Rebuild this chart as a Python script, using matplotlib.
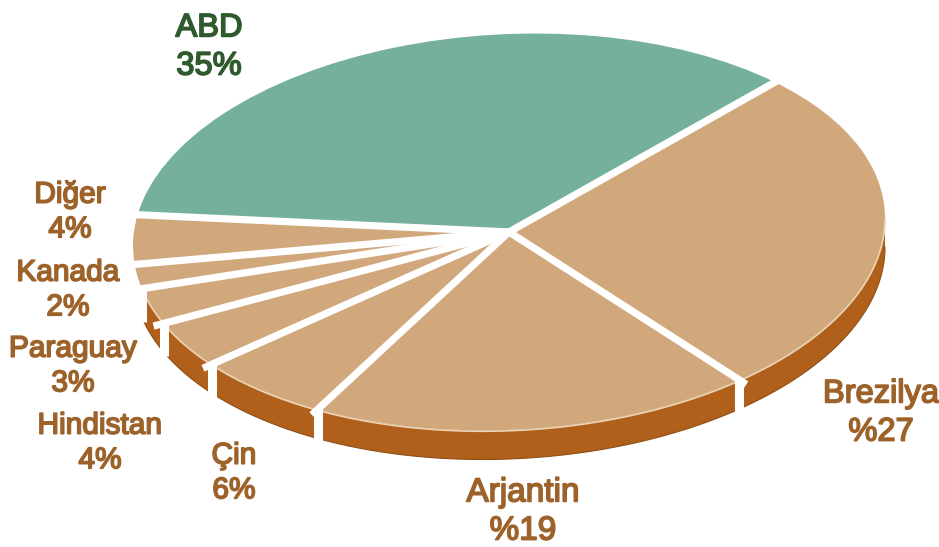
import numpy as np
import matplotlib.pyplot as plt
import matplotlib.patheffects as pe
from matplotlib.transforms import Affine2D

countries = ['ABD', 'Diğer', 'Kanada', 'Paraguay', 'Hindistan', 'Çin', 'Arjantin', 'Brezilya']
shares = [35, 4, 2, 3, 4, 6, 19, 27]
share_labels = ['35%', '4%', '2%', '3%', '4%', '6%', '%19', '%27']

W, H = 939, 547
start = 45
depth = 29 / 198
tilt = 0.07
green, tan, wall = '#74B09A', '#D1A77C', '#B0601A'

fig = plt.figure(figsize=(W / 100, H / 100), dpi=100)
ax = fig.add_axes([0, 0, 1, 1])

colors = [green] + [tan] * 7
wedges, _ = ax.pie(shares, colors=colors, startangle=start, radius=1, wedgeprops={'zorder': 2})

# squash the disc into an ellipse, centre at pixel (509, 232)
ax.set_aspect('auto')
ax.set_xlim(-509 / 376, (W - 509) / 376)
ax.set_ylim(-(H - 232) / 198, 232 / 198)
ax.axis('off')

tr = Affine2D.from_values(1, tilt, 0, 1, 0, 0) + ax.transData
for w in wedges:
    w.set_transform(tr)

edges = start + np.cumsum([0] + shares) * 3.6

# side wall under the front slices
for a0, a1 in zip(edges[:-1], edges[1:]):
    lo, hi = max(a0, 193), min(a1, 360)
    if hi <= lo:
        continue
    t = np.radians(np.linspace(lo, hi, 80))
    xs = np.r_[np.cos(t), np.cos(t[::-1])]
    ys = np.r_[np.sin(t), np.sin(t[::-1]) - depth]
    ax.fill(xs, ys, color=wall, lw=0, zorder=1, transform=tr)
    ax.plot(np.cos(t), np.sin(t) - 0.004, color='#EBD3B6', lw=1.2, zorder=2.5, transform=tr)
    ax.plot(np.cos(t), np.sin(t) - depth, color='#8F4E16', lw=0.8, zorder=1.5, transform=tr)

# white gaps between slices, on the top face and down the wall
for a in np.radians(edges[:-1]):
    cx, cy = np.cos(a), np.sin(a)
    ax.plot([0, 1.03 * cx], [0, 1.03 * cy], color='white', lw=5.2, zorder=3, transform=tr, solid_capstyle='butt')
    if cy < -0.2:
        ax.plot([cx, cx], [cy, cy - depth - 0.02], color='white', lw=6.5, zorder=3, transform=tr, solid_capstyle='butt')

# labels, placed in pixels from the top left
label_x = [209, 70, 68, 73, 100, 234, 523, 881]
label_y = [47, 212, 290, 366, 443, 473, 512, 413]
label_size = [23.5, 21.5, 21.5, 21.5, 21.5, 21.5, 24, 23.5]
for name, lab, x, y, size in zip(countries, share_labels, label_x, label_y, label_size):
    col = '#2E5A2E' if name == 'ABD' else '#9C6229'
    t = fig.text(x / W, 1 - y / H, name + '\n' + lab, ha='center', va='center', color=col,
                 family='Liberation Sans', fontsize=size, linespacing=1.3)
    t.set_path_effects([pe.withStroke(linewidth=1.2, foreground=col)])

fig.savefig('out.png', dpi=100, facecolor='white')
